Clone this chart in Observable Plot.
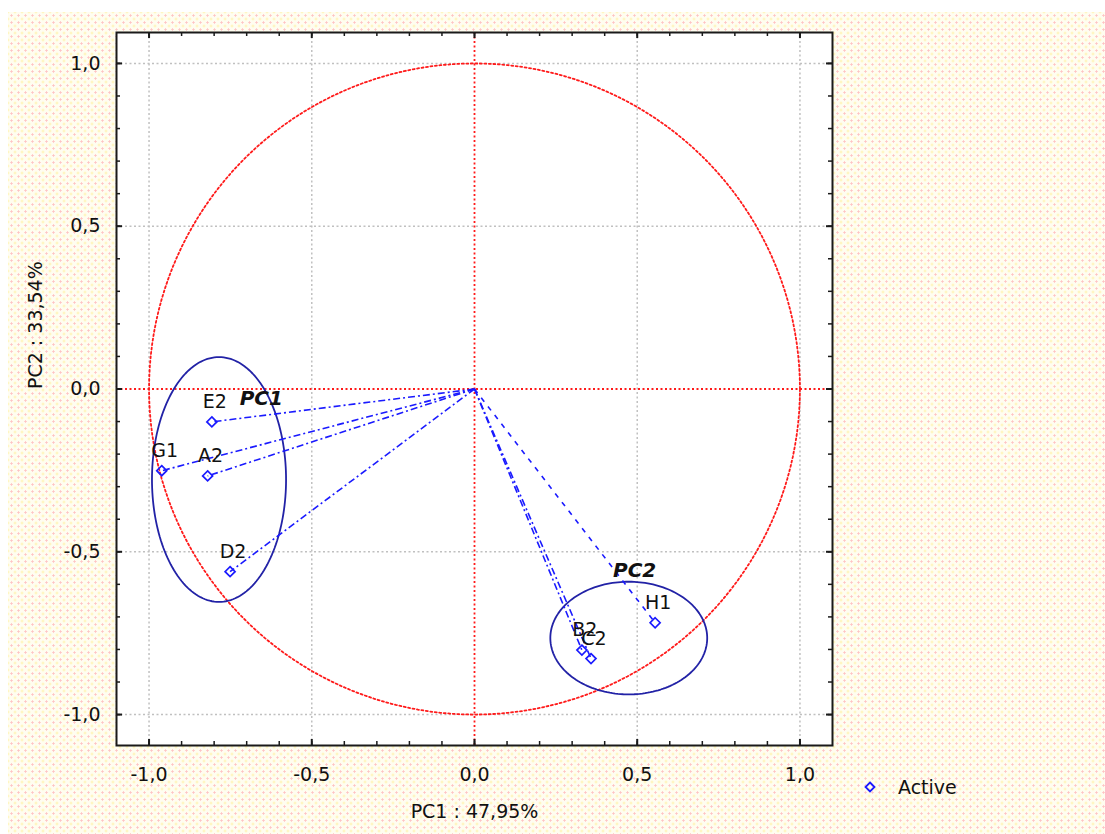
<!DOCTYPE html>
<html>
<head>
<meta charset="utf-8">
<script src="https://cdn.jsdelivr.net/npm/d3@7"></script>
<script src="https://cdn.jsdelivr.net/npm/@observablehq/plot@0.6"></script>
<style>
  html, body { margin: 0; padding: 0; background: #ffffff; }
  #wrap { position: relative; width: 1105px; height: 834px; overflow: hidden; }
  #bg { position: absolute; left: 8px; top: 12px; right: 0; bottom: 0;
        background-color: #fffdf0;
        background-image: radial-gradient(circle, #ffc4c4 0.9px, rgba(255,255,255,0) 1.3px),
                          radial-gradient(circle, #fff2a8 0.9px, rgba(255,255,255,0) 1.3px);
        background-size: 7px 7px, 7px 7px;
        background-position: 0 0, 3.5px 3.5px; }
  #chart { position: absolute; left: 0; top: 0; }
  #legend { position: absolute; left: 862px; top: 774px; font-family: "DejaVu Sans", sans-serif;
            font-size: 19px; color: #111; display: flex; align-items: center; }
  #legend span { margin-left: 20px; }
</style>
</head>
<body>
<div id="wrap">
  <div id="bg"></div>
  <div id="chart"></div>
  <div id="legend"><svg width="16" height="26"><path d="M8,8.5 L12.5,13 L8,17.5 L3.5,13 Z" fill="none" stroke="#1a1aff" stroke-width="1.8"/></svg><span>Active</span></div>
</div>
<script>
// ---- data ----
const varLabels = ["E2", "G1", "A2", "D2", "H1", "B2", "C2"];
const pc1Values = [-0.807, -0.961, -0.820, -0.751, 0.555, 0.330, 0.358];
const pc2Values = [-0.101, -0.251, -0.267, -0.561, -0.718, -0.802, -0.828];

const groupLabels = ["PC1", "PC2"];
const groupLabelX = [-0.655, 0.492];
const groupLabelY = [-0.031, -0.558];

// grouping ellipses: center x, center y, radius x, radius y
const ellipseCx = [-0.785, 0.474];
const ellipseCy = [-0.278, -0.765];
const ellipseRx = [0.206, 0.241];
const ellipseRy = [0.376, 0.173];

const majorTicks = [-1.0, -0.5, 0.0, 0.5, 1.0];
const minorTicks = [-1.0, -0.9, -0.8, -0.7, -0.6, -0.5, -0.4, -0.3, -0.2, -0.1, 0.0,
                    0.1, 0.2, 0.3, 0.4, 0.5, 0.6, 0.7, 0.8, 0.9, 1.0];
const xAxisTitle = "PC1 : 47,95%";
const yAxisTitle = "PC2 : 33,54%";

// ---- derived tables ----
const points = varLabels.map((name, i) => ({name, x: pc1Values[i], y: pc2Values[i]}));
const groupText = groupLabels.map((name, i) => ({name, x: groupLabelX[i], y: groupLabelY[i]}));
const angles = d3.range(0, 361, 2).map(a => a * Math.PI / 180);
const unitCircle = angles.map(t => ({x: Math.cos(t), y: Math.sin(t)}));
const ellipses = ellipseCx.flatMap((cx, i) =>
  angles.map(t => ({id: i, x: cx + ellipseRx[i] * Math.cos(t), y: ellipseCy[i] + ellipseRy[i] * Math.sin(t)})));

const fmt = d => d.toFixed(1).replace(".", ",");

const W = 1105, H = 834;
const mL = 116, mR = 273, mT = 32, mB = 89;
const frameH = H - mT - mB, frameW = W - mL - mR;

const chart = Plot.plot({
  width: W,
  height: H,
  marginLeft: mL, marginRight: mR, marginTop: mT, marginBottom: mB,
  x: {domain: [-1.1, 1.1]},
  y: {domain: [-1.095, 1.095]},
  style: {fontFamily: "DejaVu Sans, sans-serif", fontSize: "19px", background: "transparent", color: "#111"},
  marks: [
    Plot.frame({fill: "white", stroke: "none"}),
    Plot.gridX(majorTicks.filter(d => d !== 0), {stroke: "#c0c0c0", strokeOpacity: 1, strokeDasharray: "2,2.5", strokeWidth: 1.5}),
    Plot.gridY(majorTicks.filter(d => d !== 0), {stroke: "#c0c0c0", strokeOpacity: 1, strokeDasharray: "2,2.5", strokeWidth: 1.5}),
    Plot.ruleX([0], {stroke: "#ff1a1a", strokeDasharray: "2,2.5", strokeWidth: 1.8}),
    Plot.ruleY([0], {stroke: "#ff1a1a", strokeDasharray: "2,2.5", strokeWidth: 1.8}),
    Plot.line(unitCircle, {x: "x", y: "y", stroke: "#ff1a1a", strokeDasharray: "2,2.5", strokeWidth: 1.8}),
    Plot.line(ellipses, {x: "x", y: "y", z: "id", stroke: "#2222a6", strokeWidth: 1.8}),
    Plot.link(points.filter(d => d.name !== "H1"), {x1: 0, y1: 0, x2: "x", y2: "y", stroke: "#1a1aff", strokeWidth: 1.6, strokeDasharray: "7,3,2,3"}),
    Plot.link(points.filter(d => d.name === "H1"), {x1: 0, y1: 0, x2: "x", y2: "y", stroke: "#1a1aff", strokeWidth: 1.6, strokeDasharray: "5,6"}),
    Plot.dot(points, {x: "x", y: "y", symbol: "diamond2", r: 4.5, stroke: "#1a1aff", fill: "none", strokeWidth: 1.7}),
    Plot.text(points, {x: "x", y: "y", text: "name", dy: -20, dx: 3, fill: "#111", fontSize: 19}),
    Plot.text(groupText, {x: "x", y: "y", text: "name", fill: "#111", fontSize: 20, fontWeight: "bold", fontStyle: "italic"}),
    // inward tick marks on all four sides
    Plot.tickX(minorTicks, {x: d => d, insetTop: frameH - 4, stroke: "#1a1a1a", strokeWidth: 1.5}),
    Plot.tickX(minorTicks, {x: d => d, insetBottom: frameH - 4, stroke: "#1a1a1a", strokeWidth: 1.5}),
    Plot.tickY(minorTicks, {y: d => d, insetRight: frameW - 4, stroke: "#1a1a1a", strokeWidth: 1.5}),
    Plot.tickY(minorTicks, {y: d => d, insetLeft: frameW - 4, stroke: "#1a1a1a", strokeWidth: 1.5}),
    Plot.tickX(majorTicks, {x: d => d, insetTop: frameH - 6, stroke: "#1a1a1a", strokeWidth: 2}),
    Plot.tickX(majorTicks, {x: d => d, insetBottom: frameH - 6, stroke: "#1a1a1a", strokeWidth: 2}),
    Plot.tickY(majorTicks, {y: d => d, insetRight: frameW - 6, stroke: "#1a1a1a", strokeWidth: 2}),
    Plot.tickY(majorTicks, {y: d => d, insetLeft: frameW - 6, stroke: "#1a1a1a", strokeWidth: 2}),
    Plot.axisX({ticks: majorTicks, tickSize: 0, tickPadding: 22, tickFormat: fmt, label: null, fontSize: 19}),
    Plot.axisY({ticks: majorTicks, tickSize: 0, tickPadding: 16, tickFormat: fmt, label: null, fontSize: 19}),
    Plot.text([xAxisTitle], {frameAnchor: "bottom", dy: 72, text: d => d, fill: "#111", fontSize: 19}),
    Plot.text([yAxisTitle], {frameAnchor: "left", dx: -81, rotate: -90, text: d => d, fill: "#111", fontSize: 19}),
    Plot.frame({stroke: "#1a1a1a", strokeWidth: 2})
  ]
});
document.getElementById("chart").appendChild(chart);
</script>
</body>
</html>
